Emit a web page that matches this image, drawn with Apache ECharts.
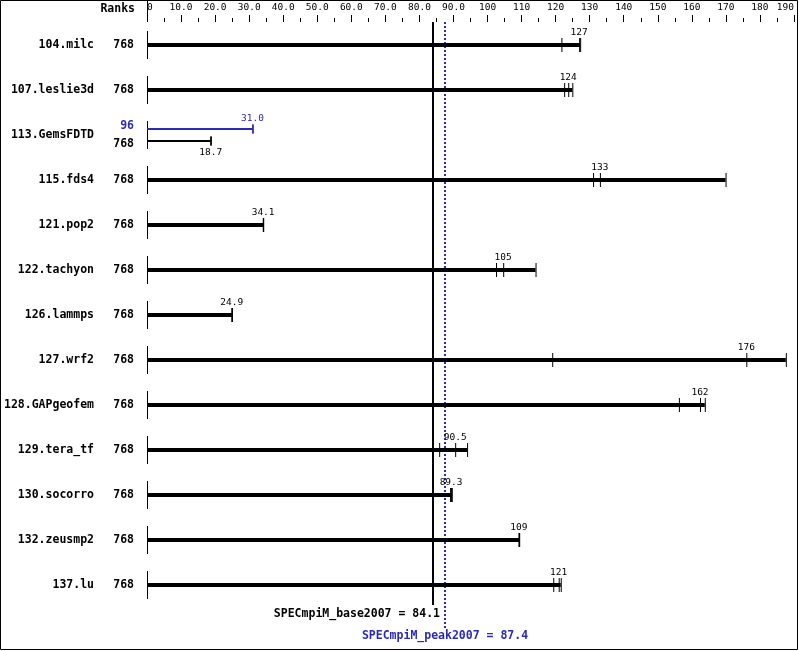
<!DOCTYPE html>
<html><head><meta charset="utf-8">
<script src="https://cdn.jsdelivr.net/npm/echarts@6/dist/echarts.min.js"></script>
<style>html,body{margin:0;padding:0;background:#fff}#c{width:799px;height:651px}</style>
</head><body><div id="c"></div>
<script>
// ---------- data ----------
const benchmarks = ['104.milc','107.leslie3d','113.GemsFDTD','115.fds4','121.pop2','122.tachyon','126.lammps','127.wrf2','128.GAPgeofem','129.tera_tf','130.socorro','132.zeusmp2','137.lu'];
const baseRanks = [768,768,768,768,768,768,768,768,768,768,768,768,768];
const baseRuns = [
  [121.7,126.9,127.2],
  [122.5,123.7,124.9],
  [18.6,18.7,18.7],
  [131.0,133.0,169.9],
  [34.0,34.1,34.1],
  [102.5,104.6,114.1],
  [24.8,24.9,24.9],
  [119.0,176.0,187.6],
  [156.2,162.4,163.8],
  [85.8,90.5,94.0],
  [89.0,89.3,89.5],
  [109.1,109.2,109.3],
  [119.3,120.9,121.5]
];
const peakBenchmark = '113.GemsFDTD';
const peakRanks = 96;
const peakRuns = [30.9,31.0,31.0];
const specBase = 84.1;
const specPeak = 87.4;
const specBaseLabel = 'SPECmpiM_base2007 = 84.1';
const specPeakLabel = 'SPECmpiM_peak2007 = 87.4';
const axisMax = 190;
const axisInterval = 10;

// ---------- helpers ----------
const BLUE = '#2a2ab4';
const MONO = '"DejaVu Sans Mono", monospace';
const fmt = v => v >= 100 ? String(Math.round(v)) : v.toFixed(1);
const median = a => a.slice().sort((p,q)=>p-q)[Math.floor(a.length/2)];

function runGroup(api, runs, cy, color, thick, tickHalf, labelDy) {
  const xs = runs.map(v => api.coord([v, 0])[0]);
  const x0 = api.coord([0, 0])[0];
  const xmax = Math.max(...xs);
  const out = [];
  out.push({type:'line', shape:{x1:x0, y1:cy, x2:xmax, y2:cy}, style:{stroke:color, lineWidth: thick ? 4 : 2}});
  xs.forEach(x => {
    out.push({type:'line', shape:{x1:x+0.5, y1:cy-tickHalf, x2:x+0.5, y2:cy+tickHalf}, style:{stroke:color, lineWidth:1}});
  });
  const m = median(runs);
  out.push({type:'text', style:{x: api.coord([m,0])[0], y: cy + labelDy, text: fmt(m), fill: color, font: '9.5px ' + MONO, align:'center', verticalAlign:'middle'}});
  return out;
}

function renderRow(params, api) {
  const i = api.value(0);
  const cy = Math.round(api.coord([0, i + 0.5])[1]);
  const x0 = api.coord([0, 0])[0];
  const children = [];
  children.push({type:'line', shape:{x1:x0+0.5, y1:cy-14, x2:x0+0.5, y2:cy+14}, style:{stroke:'#000', lineWidth:1}});
  children.push({type:'text', style:{x:94, y:cy, text:benchmarks[i], fill:'#000', font:'bold 11.5px ' + MONO, align:'right', verticalAlign:'middle'}});
  if (benchmarks[i] === peakBenchmark) {
    const yp = cy - 6, yb = cy + 6;
    children.push({type:'text', style:{x:134, y:cy-9, text:String(peakRanks), fill:BLUE, font:'bold 11.5px ' + MONO, align:'right', verticalAlign:'middle'}});
    children.push({type:'text', style:{x:134, y:cy+9, text:String(baseRanks[i]), fill:'#000', font:'bold 11.5px ' + MONO, align:'right', verticalAlign:'middle'}});
    children.push(...runGroup(api, peakRuns, yp, BLUE, false, 4.5, -10));
    children.push(...runGroup(api, baseRuns[i], yb, '#000', false, 4.5, 12));
  } else {
    children.push({type:'text', style:{x:134, y:cy, text:String(baseRanks[i]), fill:'#000', font:'bold 11.5px ' + MONO, align:'right', verticalAlign:'middle'}});
    children.push(...runGroup(api, baseRuns[i], cy, '#000', true, 7, -12));
  }
  return {type:'group', children};
}

function renderRefLines(params, api) {
  const top = api.coord([0, 0])[1];
  const bottom = api.coord([0, benchmarks.length])[1];
  const xb = Math.round(api.coord([specBase, 0])[0]);
  const xp = Math.round(api.coord([specPeak, 0])[0]);
  const x0 = api.coord([0, 0])[0];
  return {type:'group', children:[
    {type:'line', shape:{x1:x0+0.5, y1:0, x2:x0+0.5, y2:top}, style:{stroke:'#000', lineWidth:1}},
    {type:'line', shape:{x1:xp, y1:top, x2:xp, y2:bottom+21}, style:{stroke:BLUE, lineWidth:2, lineDash:[2,2]}},
    {type:'line', shape:{x1:xb, y1:top, x2:xb, y2:bottom-2}, style:{stroke:'#000', lineWidth:2}},
    {type:'text', style:{x:xb+7, y:bottom+7, text:specBaseLabel, fill:'#000', font:'bold 11.5px ' + MONO, align:'right', verticalAlign:'middle'}},
    {type:'text', style:{x:xp, y:bottom+29, text:specPeakLabel, fill:BLUE, font:'bold 11.5px ' + MONO, align:'center', verticalAlign:'middle'}}
  ]};
}

const chart = echarts.init(document.getElementById('c'), null, {renderer:'canvas'});
chart.setOption({
  animation: false,
  backgroundColor: '#fff',
  grid: {left:147, right:5, top:22, height:585},
  xAxis: {
    type:'value', position:'top', min:0, max:axisMax, interval:axisInterval,
    axisLine:{show:false},
    axisTick:{show:true, length:7, lineStyle:{color:'#000', width:1}},
    minorTick:{show:true, splitNumber:2, length:4, lineStyle:{color:'#000', width:1}},
    splitLine:{show:false}, minorSplitLine:{show:false},
    axisLabel:{show:true, margin:9, color:'#000', fontFamily:MONO, fontSize:9.5,
      alignMinLabel:'left', alignMaxLabel:'right',
      formatter: v => v === 0 ? '0' : (v < 100 ? v.toFixed(1) : String(v))}
  },
  yAxis: {type:'value', min:0, max:benchmarks.length, inverse:true, show:false},
  graphic: [
    {type:'rect', shape:{x:0.5, y:0.5, width:797, height:649}, style:{fill:null, stroke:'#000', lineWidth:1}, silent:true, z:100},
    {type:'text', style:{x:135, y:9, text:'Ranks', fill:'#000', font:'bold 11.5px ' + MONO, align:'right', verticalAlign:'middle'}}
  ],
  series: [
    {type:'custom', renderItem:renderRefLines, data:[[0]], z:1, clip:false},
    {type:'custom', renderItem:renderRow, data:benchmarks.map((b,i)=>[i]), z:2, clip:false}
  ]
});
</script>
</body></html>
